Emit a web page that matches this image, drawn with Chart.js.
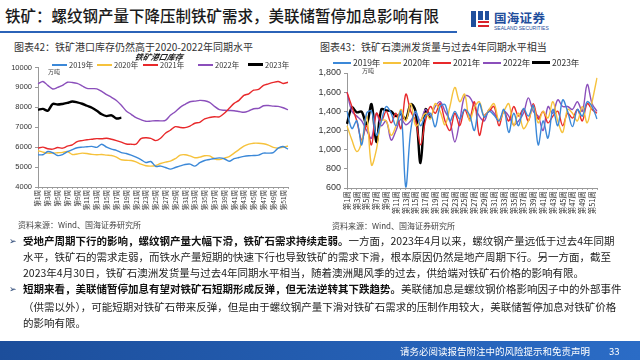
<!DOCTYPE html>
<html>
<head>
<meta charset="utf-8">
<script src="https://cdn.jsdelivr.net/npm/chart.js@4.4.1/dist/chart.umd.min.js"></script>
<style>
  body { margin: 0; width: 640px; height: 360px; overflow: hidden; background: #fff; position: relative;
         font-family: "Noto Sans CJK SC", "Noto Sans", sans-serif; color: #222; }
  .abs { position: absolute; white-space: nowrap; }
  .leg { position: absolute; white-space: nowrap; color: #333; line-height: 1; }
  .leg i { display: inline-block; width: 16px; height: 2px; vertical-align: middle; margin-right: 2px; position: relative; top: -1px; }
  .ln { position: absolute; left: 23px; width: 583px; font-size: 10.5px; line-height: 16px; white-space: nowrap;
        text-align: justify; text-align-last: justify; color: #222; }
  .ln.last { text-align-last: left; }
  .ln b { font-weight: 700; color: #111; }
  .bul { position: absolute; left: 9px; font-size: 9px; color: #1f3d6e; font-family: "DejaVu Sans"; }
  canvas { position: absolute; }
</style>
</head>
<body>

<div class="abs" style="left:5px;top:4px;font-size:15.5px;font-weight:500;color:#1a1a1a;">铁矿：螺纹钢产量下降压制铁矿需求，美联储暂停加息影响有限</div>
<div class="abs" style="left:0;top:31px;width:457px;height:2px;background:#2b63b8;"></div>

<!-- logo -->
<div class="abs" style="left:471px;top:11px;width:5px;height:16px;background:#1f4e9c;"></div>
<div class="abs" style="left:478px;top:11px;width:5px;height:9px;background:#1f4e9c;"></div>
<div class="abs" style="left:485px;top:11px;width:4px;height:9px;background:#1f4e9c;"></div>
<div class="abs" style="left:478px;top:21px;width:11px;height:2px;background:#d9232b;"></div>
<div class="abs" style="left:478px;top:25px;width:11px;height:2px;background:#d9232b;"></div>
<div class="abs" style="left:494px;top:8px;font-size:12.5px;font-weight:700;color:#1f4e9c;letter-spacing:0.3px;">国海证券</div>
<div class="abs" style="left:494px;top:25px;font-size:5px;color:#1f4e9c;font-family:'Liberation Sans';">SEALAND SECURITIES</div>

<div class="abs" style="left:14px;top:39px;font-size:10px;color:#333;">图表42：铁矿港口库存仍然高于2020-2022年同期水平</div>
<div class="abs" style="left:320px;top:39px;font-size:10px;color:#333;">图表43：铁矿石澳洲发货量与过去4年同期水平相当</div>

<canvas id="c1" width="300" height="165" style="left:0;top:60px;"></canvas>
<canvas id="c2" width="310" height="160" style="left:300px;top:60px;"></canvas>

<div class="abs" style="left:135px;top:52px;line-height:10px;font-size:8px;font-style:italic;font-weight:700;color:#222;transform:skewX(-12deg);">铁矿港口库存</div>
<div class="abs" style="left:48px;top:67px;font-size:6px;color:#444;">万吨</div>
<div class="abs" style="left:362px;top:66px;font-size:6px;color:#444;">万吨</div>

<div id="leg1"></div>
<div id="leg2"></div>

<div class="abs" style="left:18px;top:219px;font-size:8px;color:#444;">资料来源：Wind、国海证券研究所</div>
<div class="abs" style="left:332px;top:220px;font-size:8px;color:#444;">资料来源：Wind、国海证券研究所</div>

<div class="bul" style="top:236px;">➢</div>
<div class="ln" style="top:233px;"><b>受地产周期下行的影响，螺纹钢产量大幅下滑，铁矿石需求持续走弱。</b>一方面，2023年4月以来，螺纹钢产量远低于过去4年同期</div>
<div class="ln" style="top:249px;">水平，铁矿石的需求走弱，而铁水产量短期的快速下行也导致铁矿的需求下滑，根本原因仍然是地产周期下行。另一方面，截至</div>
<div class="ln last" style="top:265px;">2023年4月30日，铁矿石澳洲发货量与过去4年同期水平相当，随着澳洲飓风季的过去，供给端对铁矿石价格的影响有限。</div>
<div class="bul" style="top:284px;">➢</div>
<div class="ln" style="top:281px;"><b>短期来看，美联储暂停加息有望对铁矿石短期形成反弹，但无法逆转其下跌趋势。</b>美联储加息是螺纹钢价格影响因子中的外部事件</div>
<div class="ln" style="top:299px;">（供需以外），可能短期对铁矿石带来反弹，但是由于螺纹钢产量下滑对铁矿石需求的压制作用较大，美联储暂停加息对铁矿价格</div>
<div class="ln last" style="top:315px;">的影响有限。</div>

<div class="abs" style="left:0;top:341px;width:640px;height:19px;background:linear-gradient(90deg,#1c4e9b,#2b6cc6);"></div>
<div class="abs" style="left:400px;top:344px;font-size:9.5px;color:#fff;">请务必阅读报告附注中的风险提示和免责声明</div>
<div class="abs" style="left:609px;top:344px;font-size:9.5px;color:#fff;">33</div>

<script>
const weeks = Array.from({ length: 52 }, (_, i) => '第' + (i + 1) + '周');
const years = ['2019年', '2020年', '2021年', '2022年', '2023年'];
const colors = ['#3b88d8', '#f6c23c', '#e8292b', '#8b4fbb', '#000000'];

// 图表42 铁矿港口库存（万吨）
const stock2019 = [5620, 5620, 5780, 5720, 5580, 5630, 5770, 5880, 5970, 6000, 6020, 6040, 5990, 6150, 6000, 5900,
  5840, 5730, 5680, 5600, 5500, 5380, 5230, 5280, 5040, 5050, 4980, 4900, 4980, 5060, 5130, 5150, 5050, 5220,
  5330, 5380, 5430, 5460, 5420, 5290, 5420, 5480, 5540, 5570, 5580, 5600, 5700, 5700, 5730, 5950, 6030, 5900];
const stock2020 = [5820, 5750, 5700, 5700, 5720, 5740, 5780, 5630, 5660, 5700, 5680, 5640, 5620, 5630, 5600, 5580,
  5500, 5370, 5340, 5330, 5260, 5150, 5070, 5050, 5080, 5180, 5250, 5300, 5420, 5600, 5620, 5560, 5470, 5500,
  5570, 5560, 5420, 5380, 5450, 5530, 5700, 5880, 6050, 6150, 6200, 6200, 6170, 6100, 5990, 5950, 5990, 6060];
const stock2021 = [5950, 6000, 5920, 5900, 5980, 5950, 6050, 6120, 6280, 6330, 6370, 6400, 6430, 6420, 6450, 6400,
  6330, 6250, 6160, 6150, 6150, 6430, 6470, 6440, 6330, 6450, 6700, 6850, 7030, 6990, 6980, 7060, 7200, 7250,
  7420, 7490, 7530, 7520, 7700, 7950, 8200, 8350, 8600, 8680, 8860, 8900, 9100, 9180, 9250, 9300, 9200, 9260];
const stock2022 = [9180, 9300, 9100, 8920, 9000, 9100, 9260, 9250, 9200, 9080, 8950, 8940, 8930, 8800, 8640, 8500,
  8340, 8100, 7820, 7650, 7480, 7380, 7300, 7310, 7330, 7320, 7340, 7600, 7780, 8000, 8150, 8280, 8310, 8350,
  8330, 8250, 8050, 7880, 7850, 7840, 7830, 7790, 7750, 7820, 7930, 7950, 8080, 8090, 8060, 8050, 7980, 7880];
const stock2023 = [7880, 7920, 7830, 8170, 8140, 8170, 8220, 8290, 8250, 8180, 8080, 7980, 7830, 7650, 7560, 7600,
  7440, 7480];

// 图表43 铁矿石澳洲发货量（万吨）
const ship2019 = [1400, 1220, 1300, 1050, 1380, 1400, 1150, 1300, 1450, 1380, 1250, 1400, 610, 1200, 1400, 1250,
  1350, 1380, 1240, 1450, 1470, 1300, 1400, 1320, 1420, 1360, 1200, 1480, 1340, 1400, 1360, 1300, 1420, 1180,
  1380, 1250, 1430, 1350, 1460, 1050, 1300, 1120, 1420, 1250, 1520, 1400, 1240, 1420, 1350, 1500, 1450, 1320];
const ship2020 = [1250, 1100, 980, 1080, 1350, 840, 1000, 1300, 1300, 1150, 1250, 1420, 1300, 1480, 1250, 1300,
  1380, 1320, 1480, 1400, 1260, 1450, 1650, 1500, 1580, 1300, 1440, 1500, 1350, 1420, 1480, 1300, 1400, 1480,
  1250, 1380, 1220, 1300, 1450, 1280, 1400, 1330, 1500, 1300, 1180, 1420, 1380, 1300, 1450, 1280, 1500, 1750];
const ship2021 = [1600, 1450, 1300, 1100, 1250, 1050, 1380, 1300, 1400, 1280, 1380, 1220, 1580, 1400, 1300, 1050,
  1300, 1450, 1380, 1480, 1300, 1200, 1380, 1250, 1420, 1320, 1500, 1150, 1350, 1400, 1450, 1250, 1400, 1300,
  1450, 1350, 1420, 1300, 1480, 1320, 1400, 1280, 1350, 1400, 1250, 1380, 1330, 1420, 1300, 1480, 1420, 1380];
const ship2022 = [1600, 1400, 1350, 1300, 1200, 1120, 1380, 1250, 1300, 1100, 1200, 1320, 1260, 1300, 1380, 1300,
  1420, 1350, 1450, 1500, 1400, 1300, 1080, 1300, 1560, 1550, 1450, 1350, 1300, 1420, 1380, 1300, 1400, 1350,
  1260, 1300, 1380, 1540, 1400, 1350, 1200, 1450, 1380, 1520, 1450, 1450, 1420, 1500, 1400, 1680, 1480, 1400];
const ship2023 = [1270, 1440, 1390, 1395, 1260, 1475, 1080, 1420, 1410, 1400, 1350, 1370, 1320, 1475, 1400, 860,
  1420, 1330];

function legend(id, xs, y, size, lineW) {
  const box = document.getElementById(id);
  years.forEach((name, i) => {
    const d = document.createElement('div');
    d.className = 'leg';
    d.style.left = xs[i] + 'px';
    d.style.top = y + 'px';
    d.style.fontSize = size + 'px';
    d.innerHTML = '<i style="background:' + colors[i] + ';width:' + lineW + 'px;height:' + (i === 4 ? 3 : 2) + 'px"></i>' + name;
    box.appendChild(d);
  });
}
legend('leg1', [52, 97, 143, 198, 248], 61, 7.5, 15);
legend('leg2', [333, 383, 433, 483, 532], 58, 8.5, 18);

function makeChart(id, series, opts) {
  return new Chart(document.getElementById(id), {
    type: 'line',
    data: {
      labels: weeks,
      datasets: series.map((s, i) => ({
        label: years[i],
        data: s,
        borderColor: colors[i],
        borderWidth: i === 4 ? 2.4 : 1.4,
        pointRadius: 0,
        tension: opts.tension,
        fill: false,
      })),
    },
    options: {
      responsive: false,
      animation: false,
      devicePixelRatio: 1,
      layout: { padding: opts.padding },
      plugins: { legend: { display: false }, tooltip: { enabled: false } },
      scales: {
        x: {
          grid: { drawOnChartArea: false, tickLength: 2, color: '#aaa' },
          border: { color: '#999' },
          ticks: {
            autoSkip: false, minRotation: 90, maxRotation: 90, padding: 1, color: '#333',
            font: { size: opts.xFont, family: 'Noto Sans CJK SC' },
            callback: (v, i) => (i % 2 === 0 ? weeks[i] : ''),
          },
          afterFit: s => { s.height = opts.xH; },
        },
        y: {
          min: opts.min, max: opts.max,
          grid: { drawOnChartArea: false, tickLength: 3, color: '#999' },
          border: { color: '#999' },
          ticks: {
            stepSize: opts.step, padding: 3, color: '#333',
            font: { size: opts.yFont, family: 'Liberation Sans' },
            callback: opts.fmt,
          },
          afterFit: s => { s.width = opts.yW; },
        },
      },
    },
  });
}

makeChart('c1', [stock2019, stock2020, stock2021, stock2022, stock2023], {
  tension: 0.3, padding: { top: 5, right: 12, left: 0, bottom: 0 },
  xFont: 6.5, xH: 38, yFont: 7.5, yW: 38, min: 4000, max: 10000, step: 1000,
  fmt: v => String(v),
});

makeChart('c2', [ship2019, ship2020, ship2021, ship2022, ship2023], {
  tension: 0.35, padding: { top: 13, right: 13, left: 0, bottom: 0 },
  xFont: 7.5, xH: 32, yFont: 9, yW: 47, min: 600, max: 1800, step: 200,
  fmt: v => v.toLocaleString('en-US'),
});
</script>
</body>
</html>
